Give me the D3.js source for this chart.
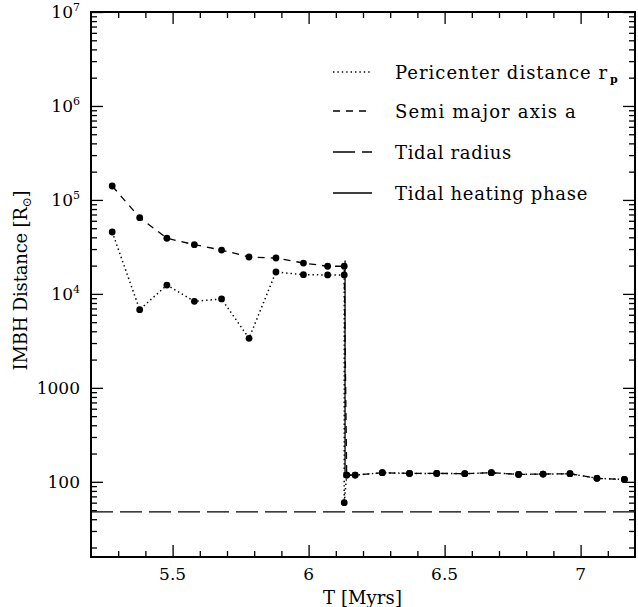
<!DOCTYPE html>
<html>
<head>
<meta charset="utf-8">
<script src="https://cdn.jsdelivr.net/npm/d3@7"></script>
<style>
  html, body { margin: 0; padding: 0; background: #fff; }
  svg { display: block; font-family: "DejaVu Serif", serif; }
</style>
</head>
<body>
<svg id="chart" width="638" height="607"></svg>
<script>
// Time samples [Myr] before and after the tidal capture
const timesBefore = [5.278, 5.379, 5.479, 5.580, 5.680, 5.781, 5.880, 5.981, 6.070, 6.131];
const timesAfter  = [6.140, 6.171, 6.271, 6.371, 6.471, 6.574, 6.672, 6.772, 6.862, 6.961, 7.060, 7.161];

// Semi major axis a [R_sun]
const semiMajorBefore = [140700, 64700, 39100, 33400, 29300, 24700, 24100, 21300, 19700, 19700];
// Pericenter distance r_p [R_sun]
const pericenterBefore = [45600, 6790, 12400, 8340, 8830, 3370, 17100, 16000, 15900, 15900];
// Pericenter at the moment of capture
const captureTime = 6.131;
const capturePericenter = 60;
// Orbit after circularisation (a and r_p coincide)
const orbitAfter = [118, 118, 125, 123, 123, 122, 125, 120, 121, 122, 109, 106];

// Tidal radius [R_sun]
const tidalRadius = 48;
// Tidal heating phase
const heatingTimes = [6.134, 6.134];
const heatingValues = [22600, 118];

// Axis ticks
const xMajorTicks = [5.5, 6, 6.5, 7];
const xMinorTicks = [5.3, 5.4, 5.6, 5.7, 5.8, 5.9, 6.1, 6.2, 6.3, 6.4, 6.6, 6.7, 6.8, 6.9, 7.1];
const yMajorTicks = [100, 1000, 1e4, 1e5, 1e6, 1e7];
const yTickBase = ["100", "1000", "10", "10", "10", "10"];
const yTickExp  = ["", "", "4", "5", "6", "7"];
const yMinorMult = [2, 3, 4, 5, 6, 7, 8, 9];
const yMinorDecades = [10, 100, 1000, 1e4, 1e5, 1e6];

const legendLabels = ["Pericenter distance r", "Semi major axis a", "Tidal radius", "Tidal heating phase"];
const legendWidths = [213, 182, 117, 193];

const frame = { left: 91, right: 635, top: 12, bottom: 557 };
const svg = d3.select("#chart");

const x = d3.scaleLinear().domain([5.2, 7.2]).range([frame.left, frame.right]);
const y = d3.scaleLog().domain([Math.pow(10, 1.2), 1e7]).range([frame.bottom, frame.top]);

const yMinorTicks = [];
yMinorDecades.forEach(d => yMinorMult.forEach(m => {
  const v = d * m;
  if (v > y.domain()[0] && v < y.domain()[1]) yMinorTicks.push(v);
}));

// widen a text run to a given overall width through letter spacing
function spreadTo(sel, width) {
  const node = sel.node();
  const n = node.getComputedTextLength();
  const chars = node.textContent.length;
  sel.attr("letter-spacing", Math.max(0, (width - n) / chars));
}

const MAJ = 12, MIN = 6;
function tickAxis(axisFn, scale, vals, len, transform) {
  const g = svg.append("g").attr("transform", transform)
    .call(axisFn(scale).tickValues(vals).tickSize(len).tickFormat(""));
  g.select(".domain").remove();
  g.selectAll(".tick line").attr("stroke", "#000").attr("stroke-width", 1.3);
  return g;
}
// inward ticks on all four sides
tickAxis(d3.axisTop, x, xMajorTicks, MAJ, `translate(0,${frame.bottom})`);
tickAxis(d3.axisTop, x, xMinorTicks, MIN, `translate(0,${frame.bottom})`);
tickAxis(d3.axisBottom, x, xMajorTicks, MAJ, `translate(0,${frame.top})`);
tickAxis(d3.axisBottom, x, xMinorTicks, MIN, `translate(0,${frame.top})`);
tickAxis(d3.axisRight, y, yMajorTicks, MAJ, `translate(${frame.left},0)`);
tickAxis(d3.axisRight, y, yMinorTicks, MIN, `translate(${frame.left},0)`);
tickAxis(d3.axisLeft, y, yMajorTicks, MAJ, `translate(${frame.right},0)`);
tickAxis(d3.axisLeft, y, yMinorTicks, MIN, `translate(${frame.right},0)`);

// frame
svg.append("rect").attr("x", frame.left).attr("y", frame.top)
  .attr("width", frame.right - frame.left).attr("height", frame.bottom - frame.top)
  .attr("fill", "none").attr("stroke", "#000").attr("stroke-width", 2);

// x tick labels
svg.append("g").selectAll("text").data(xMajorTicks).join("text")
  .attr("x", d => x(d)).attr("y", frame.bottom + 23)
  .attr("text-anchor", "middle").attr("font-size", 17)
  .text(d => d3.format("")(d));

// y tick labels
const yl = svg.append("g").selectAll("text").data(yMajorTicks).join("text")
  .attr("x", 80).attr("y", d => y(d) + 6)
  .attr("text-anchor", "end").attr("font-size", 17);
yl.each(function(d, i) {
  const t = d3.select(this);
  t.append("tspan").text(yTickBase[i]);
  if (yTickExp[i]) t.append("tspan").attr("font-size", 11).attr("dy", -7).text(yTickExp[i]);
});

// axis titles
const xt = svg.append("text").attr("x", 323).attr("y", 604)
  .attr("font-size", 18).text("T [Myrs]");
spreadTo(xt, 79);

const yt = svg.append("text")
  .attr("transform", `translate(27,${(frame.top + frame.bottom) / 2 - 4}) rotate(-90)`)
  .attr("text-anchor", "middle").attr("font-size", 18);
yt.append("tspan").text("IMBH Distance [R");
yt.append("tspan").attr("font-size", 12).attr("dy", 4).text("⊙");
yt.append("tspan").attr("dy", -4).text("]");
// spacing chosen so that "IMBH Distanc" spans ~127 px
const probe = svg.append("text").attr("font-size", 18).text("IMBH Distanc");
const pl = probe.node().getComputedTextLength();
probe.remove();
yt.attr("letter-spacing", (127 - pl) / 12);

// line styles
const DOT = "1.4,3", SHORT = "7,6", LONG = "22,7";

const line = d3.line().x(d => x(d[0])).y(d => y(d[1]));
const plot = svg.append("g");

const semiPts = timesBefore.map((t, i) => [t, semiMajorBefore[i]])
  .concat(timesAfter.map((t, i) => [t, orbitAfter[i]]));
const periPts = timesBefore.map((t, i) => [t, pericenterBefore[i]])
  .concat([[captureTime, capturePericenter]])
  .concat(timesAfter.map((t, i) => [t, orbitAfter[i]]));
const heatPts = heatingTimes.map((t, i) => [t, heatingValues[i]]);

// tidal radius
plot.append("path").datum([[5.2, tidalRadius], [7.2, tidalRadius]])
  .attr("d", line).attr("fill", "none").attr("stroke", "#000")
  .attr("stroke-width", 1.3).attr("stroke-dasharray", LONG);

plot.append("path").datum(heatPts).attr("d", line)
  .attr("fill", "none").attr("stroke", "#000").attr("stroke-width", 1.3);

plot.append("path").datum(semiPts).attr("d", line)
  .attr("fill", "none").attr("stroke", "#000").attr("stroke-width", 1.3)
  .attr("stroke-dasharray", SHORT);

plot.append("path").datum(periPts).attr("d", line)
  .attr("fill", "none").attr("stroke", "#000").attr("stroke-width", 1.5)
  .attr("stroke-dasharray", DOT);

plot.append("g").selectAll("circle").data(semiPts.concat(periPts)).join("circle")
  .attr("cx", d => x(d[0])).attr("cy", d => y(d[1])).attr("r", 3.4).attr("fill", "#000");

// legend
const legY = [72, 111, 152, 193];
const legDash = [DOT, SHORT, LONG, null];
const leg = svg.append("g");
legendLabels.forEach((lab, i) => {
  const p = leg.append("line").attr("x1", 333).attr("x2", 372)
    .attr("y1", legY[i]).attr("y2", legY[i])
    .attr("stroke", "#000").attr("stroke-width", i === 0 ? 1.5 : 1.3);
  if (legDash[i]) p.attr("stroke-dasharray", legDash[i]);
  const t = leg.append("text").attr("x", 395).attr("y", legY[i] + 6.5)
    .attr("font-size", 18).text(lab);
  spreadTo(t, legendWidths[i]);
  if (i === 0) leg.append("text").attr("x", 395 + legendWidths[i] + 2).attr("y", legY[i] + 11)
    .attr("font-size", 11).attr("font-weight", "bold").text("p");
});
</script>
</body>
</html>
